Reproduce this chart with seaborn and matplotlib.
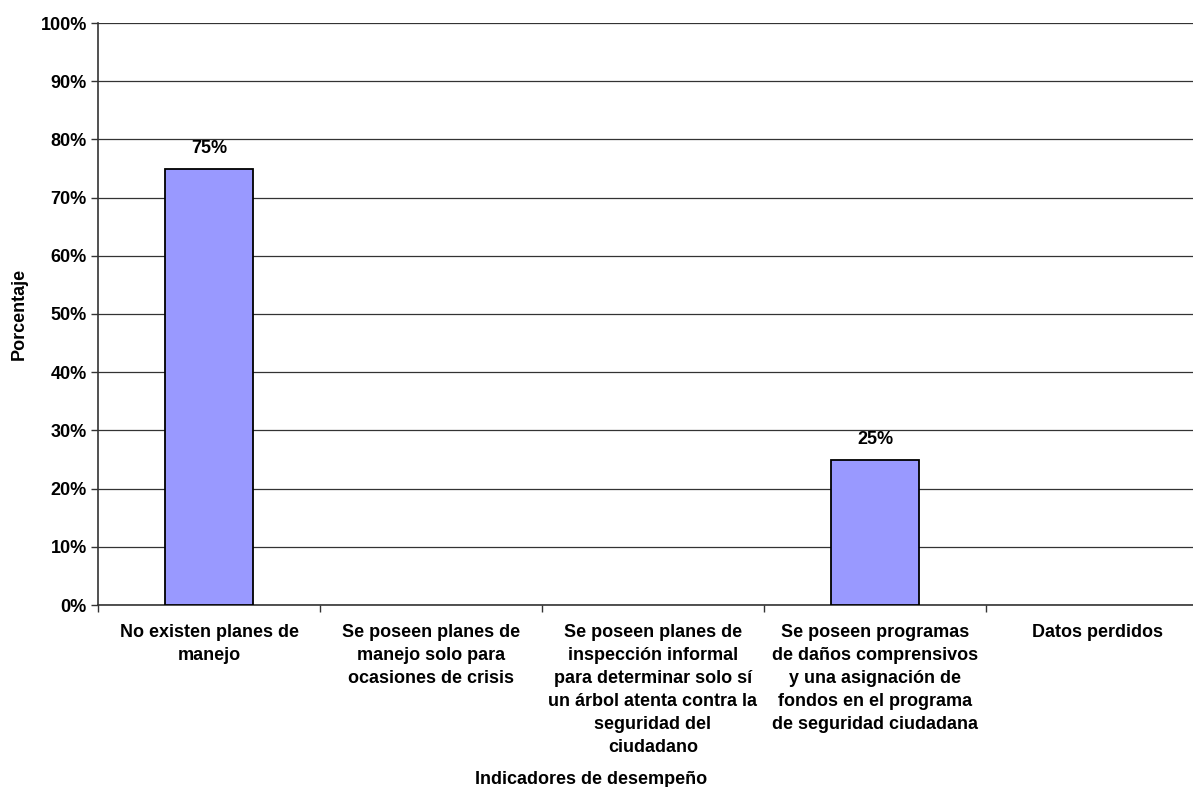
import matplotlib
matplotlib.use("Agg")
import matplotlib.pyplot as plt
import seaborn as sns
import pandas as pd
from matplotlib.ticker import FixedLocator, PercentFormatter

# Data
categorias = [
    "No existen planes de\nmanejo",
    "Se poseen planes de\nmanejo solo para\nocasiones de crisis",
    "Se poseen planes de\ninspección informal\npara determinar solo sí\nun árbol atenta contra la\nseguridad del\nciudadano",
    "Se poseen programas\nde daños comprensivos\ny una asignación de\nfondos en el programa\nde seguridad ciudadana",
    "Datos perdidos",
]
porcentajes = [75, 0, 0, 25, 0]

df = pd.DataFrame({"categoria": categorias, "porcentaje": porcentajes})

sns.set_style("white")
plt.rcParams["font.family"] = ["Liberation Sans", "DejaVu Sans"]
plt.rcParams["font.weight"] = "bold"
plt.rcParams["text.color"] = "black"
plt.rcParams["axes.labelcolor"] = "black"
plt.rcParams["xtick.color"] = "black"
plt.rcParams["ytick.color"] = "black"

FS = 13

W, H = 1193, 787
fig = plt.figure(figsize=(W / 100, H / 100), dpi=100)
# axes spans beyond the right edge, as in the original
ax = fig.add_axes([98 / W, 1 - 605 / H, 1110 / W, (605 - 23) / H])

sns.barplot(data=df, x="categoria", y="porcentaje", color="#9999FF",
            saturation=1, width=0.4, edgecolor="black", linewidth=1.3,
            ax=ax, zorder=3)

# hide zero-height bars
for patch, v in zip(ax.patches, porcentajes):
    if v == 0:
        patch.set_visible(False)
    else:
        ax.text(patch.get_x() + patch.get_width() / 2, v + 2.0, f"{v}%",
                ha="center", va="bottom", fontsize=FS, fontweight="bold")

ax.set_ylim(0, 100)
ax.set_xlim(-0.5, 4.5)
ax.yaxis.set_major_locator(FixedLocator(range(0, 101, 10)))
ax.yaxis.set_major_formatter(PercentFormatter(decimals=0))
ax.grid(axis="y", color="#333333", linewidth=0.9, zorder=0)
ax.set_axisbelow(True)

ax.tick_params(axis="y", which="major", left=True, length=5, width=1,
               color="#333333", labelsize=FS, pad=3)
ax.tick_params(axis="x", which="major", bottom=False, length=0,
               labelsize=FS, pad=14)
ax.xaxis.set_minor_locator(FixedLocator([-0.5, 0.5, 1.5, 2.5, 3.5, 4.5]))
ax.tick_params(axis="x", which="minor", bottom=True, length=5, width=1,
               color="#333333")
for lbl in ax.get_xticklabels():
    lbl.set_ha("center")
    lbl.set_multialignment("center")
    lbl.set_linespacing(1.45)
    lbl.set_fontweight("bold")
for lbl in ax.get_yticklabels():
    lbl.set_fontweight("bold")

for side in ["top", "right"]:
    ax.spines[side].set_visible(False)
for side in ["left", "bottom"]:
    ax.spines[side].set_color("#333333")
    ax.spines[side].set_linewidth(1.2)

ax.set_xlabel("Indicadores de desempeño", fontsize=FS, fontweight="bold")
ax.xaxis.set_label_coords((591 - 98) / 1110, -(779 - 605) / 582)
ax.xaxis.label.set_va("center")
ax.set_ylabel("Porcentaje", fontsize=FS, fontweight="bold")
ax.yaxis.set_label_coords(-(98 - 19) / 1110, 0.5)
ax.yaxis.label.set_va("center")

fig.savefig("out.png", dpi=100)
